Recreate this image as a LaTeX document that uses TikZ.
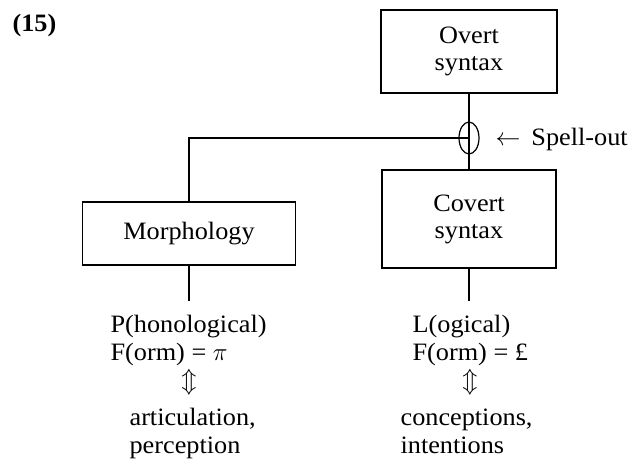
\documentclass[tikz,border=0pt]{standalone}
\usepackage{fontspec}
\setmainfont{Liberation Serif}[FakeStretch=1.05]
\usetikzlibrary{positioning,shapes}
\tikzset{>=stealth,
  box/.style={draw,align=center,inner sep=0pt},
  gloss/.style={align=left,inner sep=0pt,anchor=base west,font=\fontsize{25}{28}\selectfont},
  iff/.style={inner sep=0pt}}

\begin{document}
\begin{tikzpicture}[x=1pt,y=-1pt,line width=1.2pt,font=\fontsize{25}{27}\selectfont]
  \useasboundingbox (0,0) rectangle (630,460);
  \node [anchor=base west,inner sep=0pt,font=\fontsize{25}{27}\selectfont\bfseries] (num) at (12,32) {(15)};

  \node [box,minimum width=176pt,minimum height=83pt] (overt) at (469,51.5) {Overt\\syntax};
  \node [box,minimum width=174pt,minimum height=98pt] (covert) at (469,219) {Covert\\syntax};
  \node [box,minimum width=213pt,minimum height=63pt] (morph) at (189,233.5) {Morphology};
  \node [draw,ellipse,minimum width=20pt,minimum height=32pt,inner sep=0pt] (spell) at (469,138) {};
  \node [anchor=west,inner sep=0pt] (spelllab) at (495,139) {$\leftarrow$\hspace{11pt}Spell-out};

  \draw (overt) -- (covert);
  \coordinate (corner) at (morph.north |- spell.center);
  \draw (spell.center) -- (corner) -- (morph);

  \coordinate (pend) at (189,301);
  \coordinate (lend) at (469,301);
  \draw (morph) -- (pend);
  \draw (covert) -- (lend);

  \node [gloss] (pf) at (110,360) {P(honological)\\F(orm) = $\pi$};
  \node [gloss] (lf) at (412,360) {L(ogical)\\F(orm) = £};
  \node [iff] (pfiff) at (189,382) {$\Updownarrow$};
  \node [iff] (lfiff) at (470,382) {$\Updownarrow$};
  \node [gloss] (art) at (129,453) {articulation,\\perception};
  \node [gloss] (conc) at (400,453) {conceptions,\\intentions};
\end{tikzpicture}
\end{document}
